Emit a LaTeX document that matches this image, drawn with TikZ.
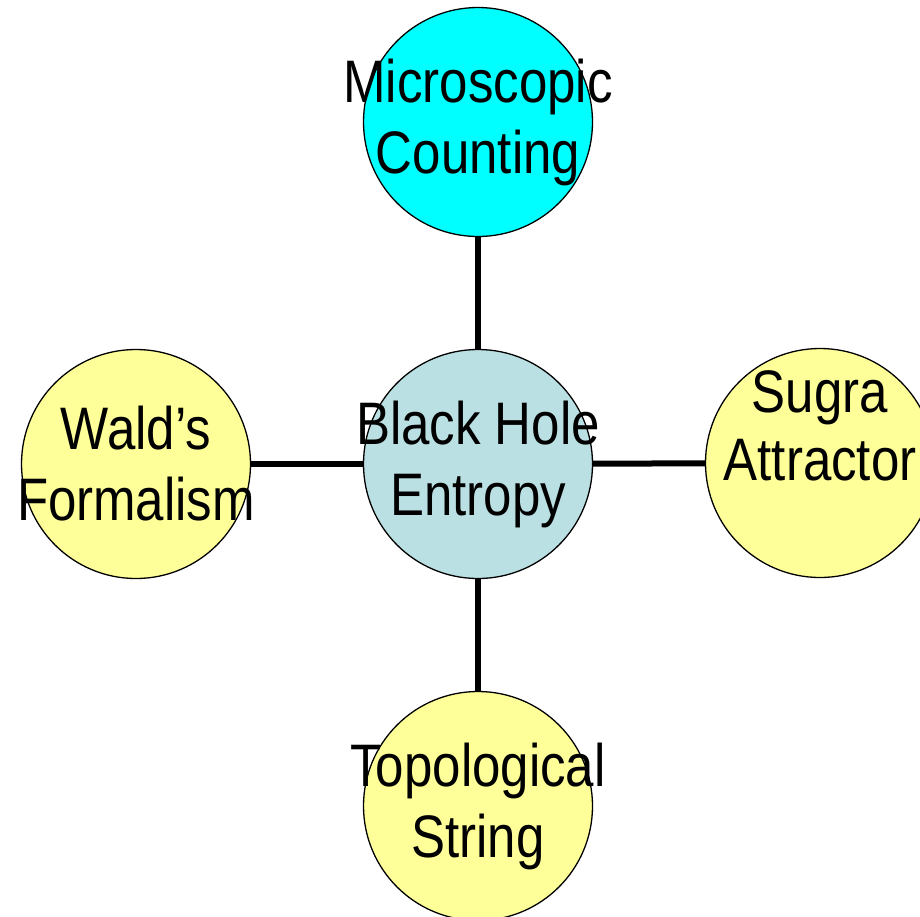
\documentclass[tikz,border=0pt]{standalone}
\usepackage{fontspec}
\setmainfont{Liberation Sans}[FakeStretch=0.85]
\usepackage{tikz}
\usetikzlibrary{positioning}

\definecolor{topcyan}{HTML}{00FFFF}
\definecolor{corecyan}{HTML}{BBE0E3}
\definecolor{paleyellow}{HTML}{FFFF99}

\begin{document}
\begin{tikzpicture}[
    x=1pt, y=-1pt,
    bubble/.style={circle, draw, line width=1.3pt, minimum size=229pt, inner sep=0pt},
    caption/.style={align=center, inner sep=0pt, font=\fontsize{60}{71}\selectfont},
    link/.style={line width=6pt}
]
\useasboundingbox (0,0) rectangle (920,916);

\node[bubble, fill=corecyan] (bh) at (478,464) {};
\node[bubble, fill=topcyan] (micro) at (478,122) {};
\node[bubble, fill=paleyellow] (wald) at (136,464) {};
\node[bubble, fill=paleyellow] (sugra) at (820,463) {};
\node[bubble, fill=paleyellow] (topo) at (478,806) {};

\node[caption] (bhtext) at (bh.center) {Black Hole\\Entropy};
\node[caption] (microtext) at (micro.center) {Microscopic\\Counting};
\node[caption] (waldtext) at (wald.center) {Wald’s\\Formalism};
\node[caption, font=\fontsize{60}{68}\selectfont] (sugratext) at ([yshift=37pt]sugra.center) {Sugra\\Attractor};
\node[caption] (topotext) at (topo.center) {Topological\\String};

\draw[link] (micro) -- (bh);
\draw[link] (bh) -- (wald);
\draw[link] (bh) -- (sugra);
\draw[link] (bh) -- (topo);
\end{tikzpicture}
\end{document}
